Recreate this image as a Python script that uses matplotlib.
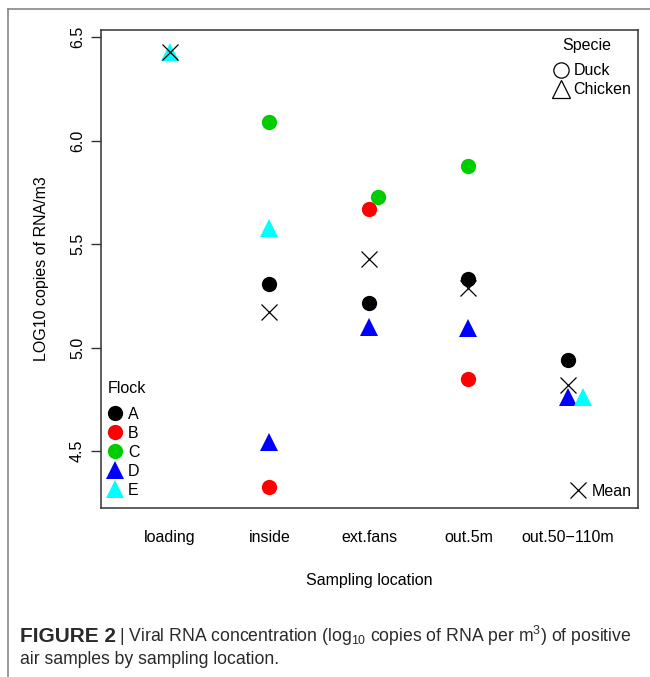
import numpy as np
import matplotlib.pyplot as plt
from matplotlib.lines import Line2D

plt.rcParams['font.family'] = ['Liberation Sans', 'DejaVu Sans']
plt.rcParams['mathtext.fontset'] = 'custom'
plt.rcParams['mathtext.rm'] = 'Liberation Sans'

# sampling locations on the x axis
locations = ['loading', 'inside', 'ext.fans', 'out.5m', 'out.50\u2212110m']

# log10 copies of RNA per m3, one list per flock (nan = no positive sample)
flock_a = [np.nan, 5.305, 5.215, 5.332, 4.940]
flock_b = [np.nan, 4.328, 5.668, 4.849, np.nan]
flock_c = [np.nan, 6.091, 5.729, 5.878, np.nan]
flock_d = [np.nan, 4.545, 5.097, 5.096, 4.762]
flock_e = [6.430, 5.579, np.nan, np.nan, 4.762]

flock_names = ['A', 'B', 'C', 'D', 'E']
flock_species = ['Duck', 'Duck', 'Duck', 'Chicken', 'Chicken']

# plotting style
colors = ['black', '#FF0000', '#00CD00', '#0000FF', '#00FFFF']
shape = {'Duck': 'o', 'Chicken': '^'}
# small sideways shift so overlapping points stay visible
nudge = {('C', 2): 0.09, ('E', 4): 0.15}
fs = 11.5

fig = plt.figure(figsize=(6.5, 6.77), dpi=100)
ax = fig.add_axes([0.1554, 0.2496, 0.8256, 0.7061])

series = [flock_a, flock_b, flock_c, flock_d, flock_e]
x = np.arange(1, len(locations) + 1)
for name, vals, col, sp in zip(flock_names, series, colors, flock_species):
    xs = np.array([xi + nudge.get((name, i), 0) for i, xi in enumerate(x)])
    ms = 11 if sp == 'Duck' else 13
    ax.plot(xs, vals, linestyle='none', marker=shape[sp], color=col,
            markersize=ms, markeredgewidth=0, zorder=2)

# mean per location
means = np.nanmean(np.array(series), axis=0)
ax.plot(x, means, linestyle='none', marker='x', color='black',
        markersize=11, markeredgewidth=0.9, zorder=3)

ax.set_xlim(0.307, 5.70)
ax.set_ylim(4.225, 6.534)
ax.set_xticks(x)
ax.set_xticklabels(locations, fontsize=fs)
ax.tick_params(axis='x', length=0, pad=16)
ax.set_yticks([4.5, 5.0, 5.5, 6.0, 6.5])
ax.set_yticklabels(['4.5', '5.0', '5.5', '6.0', '6.5'], rotation=90,
                   va='center', fontsize=fs)
ax.tick_params(axis='y', length=7.5, width=1, color='#333333', pad=4)
for s in ax.spines.values():
    s.set_color('#333333')
    s.set_linewidth(1.1)
ax.set_xlabel('Sampling location', fontsize=fs, labelpad=20)
ax.set_ylabel('LOG10 copies of RNA/m3', fontsize=fs, labelpad=15)

# legend for species (shapes)
sp_handles = [Line2D([], [], linestyle='none', marker='o', markersize=11,
                     markerfacecolor='none', markeredgecolor='black', markeredgewidth=0.9),
              Line2D([], [], linestyle='none', marker='^', markersize=13,
                     markerfacecolor='none', markeredgecolor='black', markeredgewidth=0.9)]
leg1 = ax.legend(sp_handles, ['Duck', 'Chicken'], loc='upper right',
                 bbox_to_anchor=(1.0, 0.944), frameon=False, fontsize=fs,
                 handlelength=1.0, handletextpad=0.3, labelspacing=0.25,
                 borderaxespad=0.1, borderpad=0.3)
ax.add_artist(leg1)
ax.text(0.906, 0.968, 'Specie', transform=ax.transAxes, ha='center', va='center',
        fontsize=fs)

# legend for flocks (colours)
fl_handles = [Line2D([], [], linestyle='none', marker=shape[sp], color=c,
                     markersize=11 if sp == 'Duck' else 13, markeredgewidth=0)
              for c, sp in zip(colors, flock_species)]
leg2 = ax.legend(fl_handles, flock_names, loc='lower left',
                 bbox_to_anchor=(0.0, 0.0085), frameon=False,
                 fontsize=fs, handlelength=1.0, handletextpad=0.3,
                 labelspacing=0.25, borderaxespad=0.1, borderpad=0.3)
ax.add_artist(leg2)
ax.text(0.012, 0.249, 'Flock', transform=ax.transAxes, ha='left', va='center',
        fontsize=fs)

# legend for the mean marker
mean_handle = [Line2D([], [], linestyle='none', marker='x', color='black',
                      markersize=11, markeredgewidth=0.9)]
ax.legend(mean_handle, ['Mean'], loc='lower right', bbox_to_anchor=(1.0, 0.006),
          frameon=False, fontsize=fs, handlelength=1.0, handletextpad=0.3,
          borderaxespad=0.1, borderpad=0.3)

# page frame lines
fig.add_artist(Line2D([8 / 650, 1], [1 - 9 / 677, 1 - 9 / 677], color='#888888', lw=1.2))
fig.add_artist(Line2D([8 / 650, 8 / 650], [0, 1 - 9 / 677], color='#888888', lw=1.2))

# caption
cap_col = '#2a2a2a'
renderer = fig.canvas.get_renderer()
t1 = fig.text(20 / 650, 1 - 636 / 677, 'FIGURE 2', fontsize=15, fontweight='bold',
              va='center', color=cap_col)
x_end = t1.get_window_extent(renderer).x1
rest = '| Viral RNA concentration (log$_{10}$ copies of RNA per m$^{3}$) of positive'
t2 = fig.text((x_end + 3) / 650, 1 - 636 / 677, rest, fontsize=13, va='center',
              color=cap_col)
w = t2.get_window_extent(renderer).width
t2.set_fontsize(13 * (630 - x_end - 3) / w)
fig.text(20 / 650, 1 - 660 / 677, 'air samples by sampling location.',
         fontsize=t2.get_fontsize(), va='center', color=cap_col)

fig.savefig('out.png', dpi=100)
